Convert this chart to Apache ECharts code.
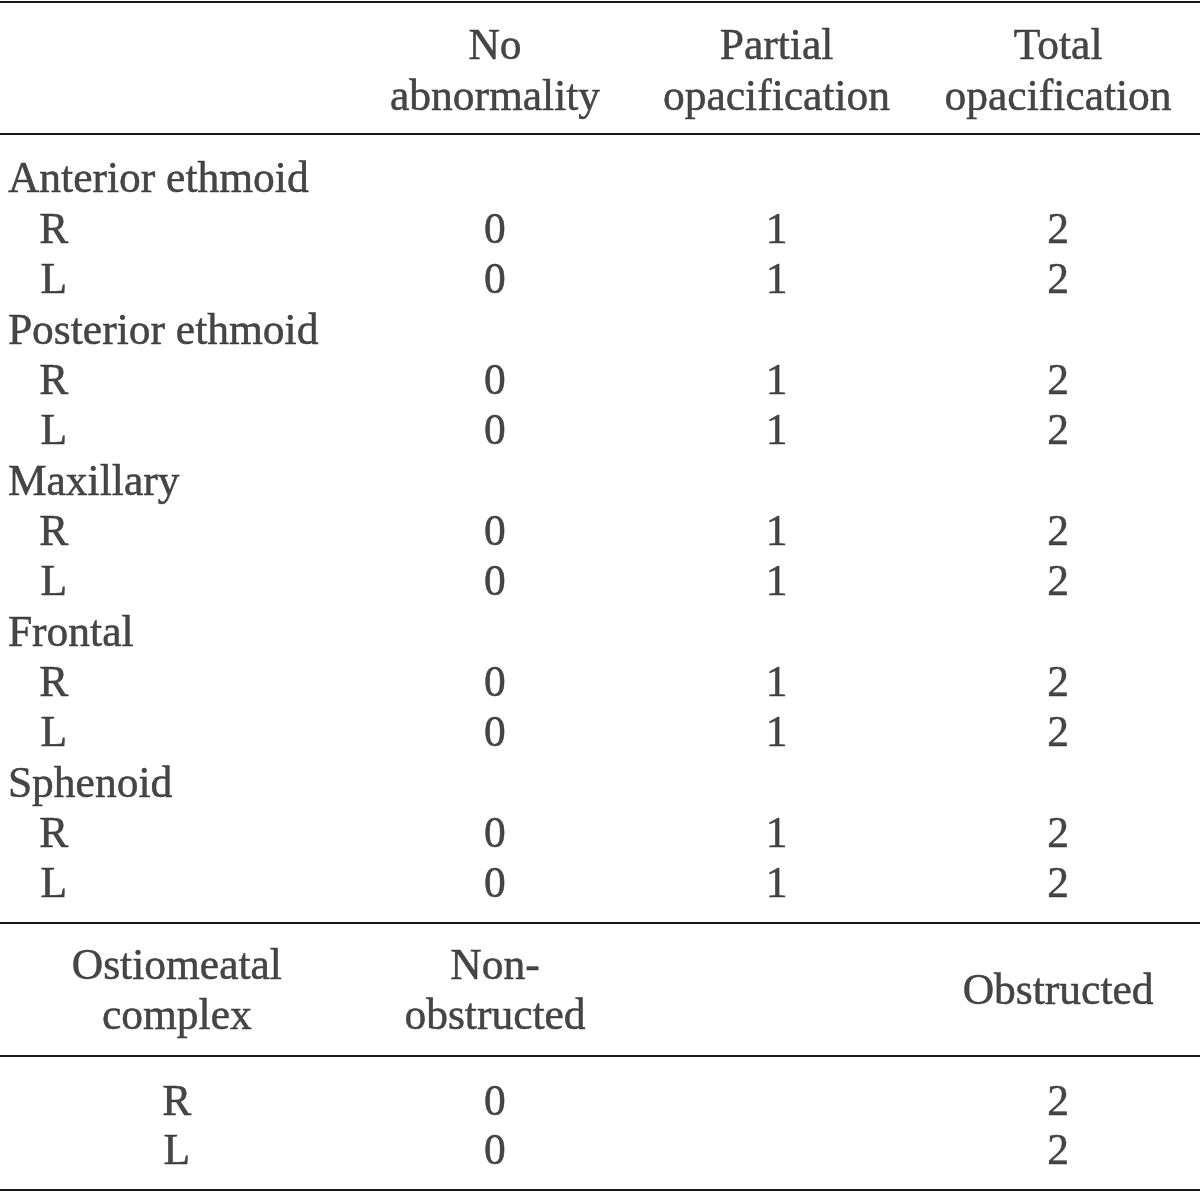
<!DOCTYPE html>
<html><head><meta charset="utf-8">
<script src="https://cdn.jsdelivr.net/npm/echarts@6/dist/echarts.min.js"></script>
<style>html,body{margin:0;padding:0;background:#fff}#c{width:1200px;height:1192px}</style>
</head><body><div id="c"></div>
<script>
// ---- data ----
const columnHeaders = ['No\nabnormality', 'Partial\nopacification', 'Total\nopacification'];
const sinuses = ['Anterior ethmoid', 'Posterior ethmoid', 'Maxillary', 'Frontal', 'Sphenoid'];
const sides = ['R', 'L'];
const sinusScores = [0, 1, 2];
const omcTitle = 'Ostiomeatal\ncomplex';
const omcHeaders = ['Non-\nobstructed', '', 'Obstructed'];
const omcScores = [0, null, 2];

// ---- layout (in table units: columns / rows) ----
const L = {
  xMin: -0.758, xMax: 3.504, yMin: -3.535, yMax: 20.135,
  colX: [1, 2, 3],
  sectionX: -0.730, sideX: -0.567, omcLabelX: -0.130,
  headerY: -2.145, omcHeaderY: 16.12, omcRowY: [18.31, 19.30],
  rules: [-3.495, -0.875, 14.79, 17.43, 20.09],
  font: 'Liberation Serif', size: 43.5, color: '#1a1718'
};

const centered = [], lefted = [];
columnHeaders.forEach((h, j) => centered.push({ value: [L.colX[j], L.headerY], name: h }));
let row = 0;
sinuses.forEach(s => {
  lefted.push({ value: [L.sectionX, row], name: s });
  row++;
  sides.forEach(sd => {
    centered.push({ value: [L.sideX, row], name: sd });
    sinusScores.forEach((v, j) => centered.push({ value: [L.colX[j], row], name: String(v) }));
    row++;
  });
});
centered.push({ value: [L.omcLabelX, L.omcHeaderY], name: omcTitle });
omcHeaders.forEach((h, j) => { if (h) centered.push({ value: [L.colX[j], L.omcHeaderY], name: h }); });
sides.forEach((sd, k) => {
  centered.push({ value: [L.omcLabelX, L.omcRowY[k]], name: sd });
  omcScores.forEach((v, j) => { if (v !== null) centered.push({ value: [L.colX[j], L.omcRowY[k]], name: String(v) }); });
});

const textStyle = (align) => ({
  show: true, position: 'inside', align: align, verticalAlign: 'middle', offset: [0, 3],
  formatter: p => p.name, fontFamily: L.font, fontSize: L.size, color: L.color, lineHeight: 50.5,
  textBorderColor: L.color, textBorderWidth: 0.5
});

const chart = echarts.init(document.getElementById('c'), null, { renderer: 'canvas' });
chart.setOption({
  animation: false,
  backgroundColor: '#fff',
  grid: { left: 0, right: 0, top: 0, bottom: 0 },
  xAxis: { type: 'value', min: L.xMin, max: L.xMax, show: false },
  yAxis: { type: 'value', min: L.yMin, max: L.yMax, inverse: true, show: false },
  series: [
    { type: 'scatter', symbolSize: 0, itemStyle: { color: 'transparent' }, data: centered, label: textStyle('center'), silent: true },
    { type: 'scatter', symbolSize: 0, itemStyle: { color: 'transparent' }, data: lefted, label: textStyle('left'), silent: true,
      markLine: { silent: true, symbol: 'none', label: { show: false },
        lineStyle: { color: L.color, width: 2.2, type: 'solid' },
        data: L.rules.map(y => ({ yAxis: y })) } }
  ]
});
</script></body></html>
